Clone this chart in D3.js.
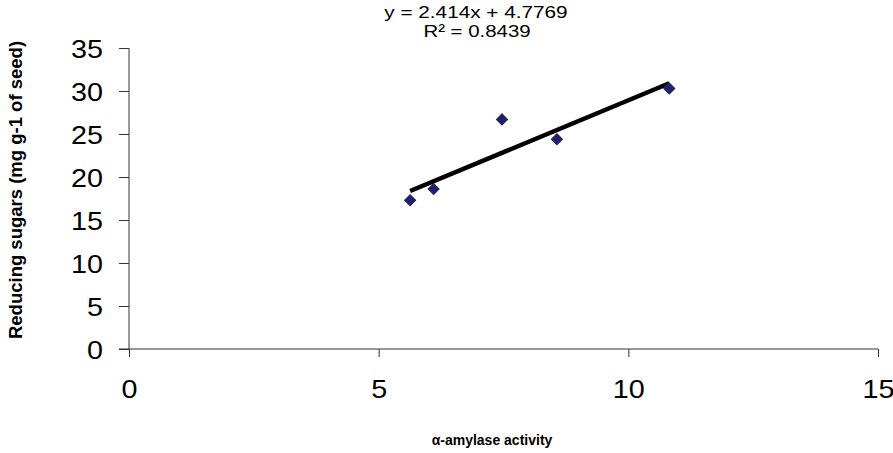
<!DOCTYPE html>
<html><head><meta charset="utf-8">
<script src="https://cdn.jsdelivr.net/npm/d3@7/dist/d3.min.js"></script>
<style>body{margin:0;background:#fff}svg{display:block}text{font-family:"Liberation Sans",Arial,sans-serif}</style>
</head><body><svg id="c" width="893" height="453"></svg>
<script>
const xValues = [5.63, 6.1, 7.47, 8.57, 10.82];
const yValues = [17.3, 18.6, 26.7, 24.4, 30.3];
const xTicks = [0, 5, 10, 15];
const yTicks = [0, 5, 10, 15, 20, 25, 30, 35];
const slope = 2.414, intercept = 4.7769;
const eqLabel = "y = 2.414x + 4.7769";
const r2Label = "R² = 0.8439";
const xTitle = "α-amylase activity";
const yTitle = "Reducing sugars (mg g-1 of seed)";

const stretch = 1.15;
const svg = d3.select("#c");
const x = d3.scaleLinear().domain([0, 15]).range([129, 878]);
const y = d3.scaleLinear().domain([0, 35]).range([349, 48]);
const axisColor = "#333";

function widen(sel, k) {
  sel.each(function () {
    const w = this.getComputedTextLength();
    d3.select(this).attr("textLength", w * k).attr("lengthAdjust", "spacingAndGlyphs");
  });
}

const yAxis = svg.append("g").attr("transform", `translate(${x(0)},0)`)
  .call(d3.axisLeft(y).tickValues(yTicks).tickSize(10).tickPadding(16));
const xAxis = svg.append("g").attr("transform", `translate(0,${y(0)})`)
  .call(d3.axisBottom(x).tickValues(xTicks).tickSize(8).tickPadding(23));
[xAxis, yAxis].forEach(a => {
  a.select(".domain").attr("stroke", axisColor);
  a.selectAll(".tick line").attr("stroke", axisColor);
  a.selectAll(".tick text").attr("fill", "#000").style("font-size", "25px")
    .style("font-family", '"Liberation Sans",Arial,sans-serif');
  widen(a.selectAll(".tick text"), stretch);
});
yAxis.select(".domain").attr("d", `M0,${y(35)}V${y(0)}`);
xAxis.select(".domain").attr("d", `M${x(0)-10},0H${x(15)}`);
yAxis.selectAll(".tick text").attr("dy", "0.36em");

const x0 = d3.min(xValues), x1 = d3.max(xValues);
svg.append("line")
  .attr("x1", x(x0)).attr("y1", y(slope * x0 + intercept))
  .attr("x2", x(x1)).attr("y2", y(slope * x1 + intercept))
  .attr("stroke", "#000").attr("stroke-width", 4.5);

const sym = d3.symbol().type(d3.symbolSquare).size(62);
svg.append("g").selectAll("path").data(xValues.map((v, i) => [v, yValues[i]]))
  .join("path")
  .attr("d", sym)
  .attr("transform", d => `translate(${x(d[0])},${y(d[1])}) rotate(45)`)
  .attr("fill", "#1f1f75").attr("stroke", "#2a2a40").attr("stroke-width", 1);

const eq = svg.append("text").attr("x", 476).attr("y", 18).attr("text-anchor", "middle")
  .style("font-size", "17px").text(eqLabel);
const r2 = svg.append("text").attr("x", 477).attr("y", 37).attr("text-anchor", "middle")
  .style("font-size", "17px").text(r2Label);
widen(eq, 1.22); widen(r2, 1.2);

svg.append("text").attr("x", 492).attr("y", 445).attr("text-anchor", "middle")
  .style("font-size", "14px").style("font-weight", "bold").text(xTitle);
svg.append("text").attr("transform", "translate(22,190) rotate(-90)").attr("text-anchor", "middle")
  .style("font-size", "18.5px").style("font-weight", "bold").text(yTitle);
</script></body></html>
